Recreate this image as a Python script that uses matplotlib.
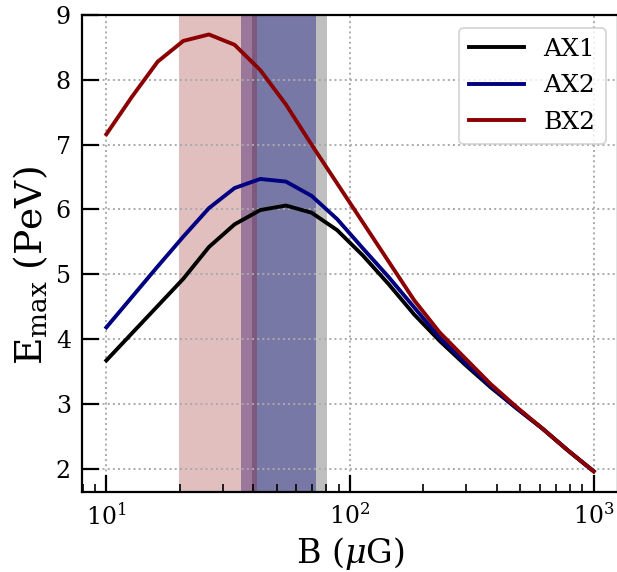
import numpy as np
import matplotlib
matplotlib.use("Agg")
import matplotlib.pyplot as plt

plt.rcParams['font.family'] = 'DejaVu Serif'
plt.rcParams['mathtext.fontset'] = 'dejavuserif'

# magnetic field grid (muG), 20 log-spaced runs
B = np.logspace(1, 3, 20)

# maximum energies (PeV)
emax_ax1 = [3.67, 4.09, 4.51, 4.93, 5.42, 5.77, 5.99, 6.06, 5.95, 5.68,
            5.29, 4.85, 4.38, 3.97, 3.60, 3.25, 2.93, 2.62, 2.28, 1.96]
emax_ax2 = [4.18, 4.65, 5.12, 5.58, 6.02, 6.33, 6.47, 6.43, 6.21, 5.85,
            5.40, 4.96, 4.49, 4.02, 3.63, 3.27, 2.93, 2.62, 2.28, 1.96]
emax_bx2 = [7.16, 7.74, 8.28, 8.60, 8.70, 8.54, 8.15, 7.62, 7.00, 6.40,
            5.80, 5.20, 4.60, 4.10, 3.70, 3.30, 2.95, 2.62, 2.28, 1.96]

labels = ['AX1', 'AX2', 'BX2']
colors = ['black', 'navy', 'darkred']

# allowed field ranges for each run
band_ax1 = (39.7, 80.7)
band_ax2 = (35.6, 72.8)
band_bx2 = (19.8, 41.6)

fig = plt.figure(figsize=(6.17, 5.72), dpi=100)
ax = fig.add_axes([82/617, 80/572, 536/617, 477/572])

ax.axvspan(*band_ax1, color='gray', alpha=0.5, lw=0)
ax.axvspan(*band_ax2, color='navy', alpha=0.37, lw=0)
ax.axvspan(*band_bx2, color='darkred', alpha=0.25, lw=0)

for y, lab, c in zip([emax_ax1, emax_ax2, emax_bx2], labels, colors):
    ax.plot(B, y, color=c, lw=2.8, label=lab)

ax.set_xscale('log')
ax.set_ylim(1.64, 9.0)
ax.set_yticks(range(2, 10))
ax.grid(True, which='major', ls=':', color='#aaaaaa', lw=1.4)

ax.tick_params(which='both', direction='in', labelsize=17)
ax.tick_params(which='major', length=12, width=1.6, pad=8)
ax.tick_params(which='minor', length=6, width=1.2)
for s in ax.spines.values():
    s.set_linewidth(1.6)

ax.set_xlabel(r'B ($\mu$G)', fontsize=24)
ax.set_ylabel(r'E$_{\rm max}$ (PeV)', fontsize=27)
ax.yaxis.label.set_y(0.475)

leg = ax.legend(loc='upper right', fontsize=18, handlelength=2.2,
                labelspacing=0.55, fancybox=True)
leg.get_frame().set_linewidth(1.3)

fig.savefig('out.png', dpi=100)
